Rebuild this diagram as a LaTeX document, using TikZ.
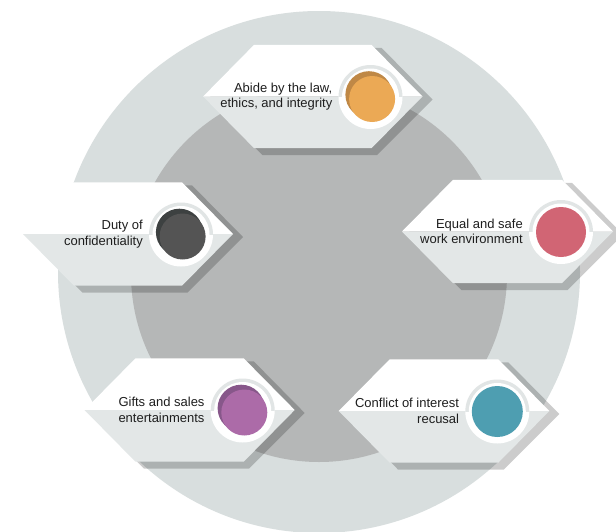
\documentclass[tikz,border=0pt]{standalone}
\usepackage{fontspec}
\setmainfont{Liberation Sans}
\definecolor{outerc}{HTML}{D8DEDE}
\definecolor{innerc}{HTML}{B5B7B7}
\definecolor{hexlow}{HTML}{E3E7E7}
\definecolor{ringc}{HTML}{E1E5E5}
\definecolor{orangeM}{HTML}{EBA955}
\definecolor{orangeD}{HTML}{BF8846}
\definecolor{grayM}{HTML}{545454}
\definecolor{grayD}{HTML}{3D4141}
\definecolor{pinkM}{HTML}{D16574}
\definecolor{purpleM}{HTML}{AC6BA8}
\definecolor{purpleD}{HTML}{87578A}
\definecolor{tealM}{HTML}{4E9EB1}
\definecolor{txt}{HTML}{1E1E1E}
\tikzset{
  shadowfill/.style={fill=black, fill opacity=0.2},
  lbl/.style={anchor=east, align=right, inner sep=0pt, text=txt,
              font=\fontsize{13pt}{15.5pt}\selectfont},
  disk/.style={circle, inner sep=0pt, minimum size=#1},
}
% #1 name, #2 cx, #3 cy, #4 half width, #5 text
\newcommand\hexblock[5]{%
  \fill[shadowfill] ({#2+#4+10},{#3+3}) -- ({#2+#4-41},{#3-48.7}) -- ({#2-#4+61},{#3-48.7})
     -- ({#2-#4+4},{#3+3}) -- ({#2-#4+59.5},{#3+58.7}) -- ({#2+#4-45.7},{#3+58.7}) -- cycle;
  \fill[white] ({#2-#4},#3) -- ({#2-#4+51},{#3-51.7}) -- ({#2+#4-51},{#3-51.7}) -- ({#2+#4},#3) -- cycle;
  \fill[hexlow] ({#2-#4},#3) -- ({#2-#4+51},{#3+51.7}) -- ({#2+#4-51},{#3+51.7}) -- ({#2+#4},#3) -- cycle;
  \coordinate (#1c) at ({#2+#4-52},{#3+0.5});
  \fill[white] (#1c) circle[radius=32pt];
  \begin{scope}
    \clip ({#2+#4-86},{#3-34}) rectangle ({#2+#4-18},#3);
    \fill[ringc] (#1c) circle[radius=32pt];
  \end{scope}
  \fill[white] (#1c) circle[radius=28.5pt];
  \node[lbl] (#1) at ({#2+#4-90},#3) {#5};
}
\begin{document}
\begin{tikzpicture}[x=1pt,y=-1pt]
\useasboundingbox (0,0) rectangle (616,531);
\fill[white] (0,0) rectangle (616,531);
\clip (0,0) rectangle (616,531);
\fill[outerc] (319,272) circle[radius=261pt];
\fill[innerc] (319,274) circle[radius=188pt];

\hexblock{law}{312.8}{96.5}{109.7}{Abide by the law,\\ethics, and integrity}
\node[disk=47pt, fill=orangeD] (lawdk) at ([shift={(-1.6,-2.3)}]lawc) {};
\node[disk=46pt, fill=orangeM] (lawdm) at ([shift={(1.6,2)}]lawc) {};

\hexblock{duty}{128}{234}{105}{Duty of\\confidentiality}
\node[disk=47pt, fill=grayD] (dutydk) at ([shift={(-1.6,-2.3)}]dutyc) {};
\node[disk=46pt, fill=grayM] (dutydm) at ([shift={(1.6,2)}]dutyc) {};

\hexblock{equal}{507.5}{231.5}{105.5}{Equal and safe\\work environment}
\node[disk=50pt, fill=pinkM] (equald) at (equalc) {};

\hexblock{gifts}{189.6}{410}{105.1}{Gifts and sales\\entertainments}
\node[disk=47pt, fill=purpleD] (giftsdk) at ([shift={(-1.6,-2.3)}]giftsc) {};
\node[disk=46pt, fill=purpleM] (giftsdm) at ([shift={(1.6,2)}]giftsc) {};

\hexblock{conf}{444}{411}{105.3}{Conflict of interest\\recusal}
\node[disk=51pt, fill=tealM] (confd) at (confc) {};
\end{tikzpicture}
\end{document}
